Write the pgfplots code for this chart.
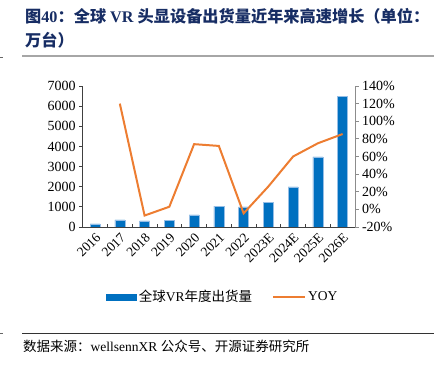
\documentclass[border=0pt]{standalone}
\usepackage{pgfplots}
\pgfplotsset{compat=1.18}
\usepackage{fontspec}
\setmainfont{Liberation Serif}
\newfontfamily\cjk{Noto Sans CJK SC}
\definecolor{barblue}{RGB}{0,112,192}
\definecolor{baredge}{RGB}{150,190,230}
\definecolor{lineor}{RGB}{237,125,49}
\definecolor{navy}{RGB}{23,45,100}
\begin{document}
\begin{tikzpicture}[x=1pt,y=1pt]
\useasboundingbox (0,0) rectangle (439,365);
% title
\node[anchor=base west, inner sep=0, text=navy, font=\fontsize{16.2}{20}\selectfont\bfseries] at (25,342)
 {{\cjk 图}40{\cjk ：全球} VR {\cjk 头显设备出货量近年来高速增长（单位：}};
\node[anchor=base west, inner sep=0, text=navy, font=\fontsize{16.2}{20}\selectfont\bfseries] at (25,318)
 {{\cjk 万台）}};
\draw[black!35, line width=2pt] (22,309) -- (434,309);
\draw[black!60, line width=0.8pt] (0,308) -- (3,308);
\draw[black!80, line width=0.8pt] (22,32) -- (434,32);
\draw[black!60, line width=0.8pt] (0,32) -- (3,32);
\node[anchor=base west, inner sep=0, font=\fontsize{13.5}{16}\selectfont] at (23,14)
 {{\cjk 数据来源：}wellsennXR {\cjk 公众号、开源证券研究所}};
% bars
\begin{axis}[
  at={(82.7pt,138pt)}, anchor=south west, scale only axis,
  width=272.3pt, height=141pt,
  xmin=-0.5, xmax=10.5, ymin=0, ymax=7000,
  axis y line*=left, axis x line*=bottom,
  axis line style={black!75, line width=0.8pt},
  xtick={0,...,10},
  xticklabels={2016,2017,2018,2019,2020,2021,2022,2023E,2024E,2025E,2026E},
  xtick style={draw=none},
  x tick label style={rotate=45, anchor=north east, font=\fontsize{13.5}{16}\selectfont, inner sep=1pt},
  ytick={0,1000,...,7000},
  y tick label style={font=\fontsize{14}{16}\selectfont},
  scaled y ticks=false,
  /pgf/number format/assume math mode=true,
  /pgf/number format/1000 sep={},
  tick align=outside, major tick length=3.5pt,
  ytick style={black!75, line width=0.8pt},
  clip=false,
]
\addplot[ybar, bar width=10pt, fill=barblue, draw=baredge, line width=0.5pt] coordinates {
 (0,150) (1,350) (2,310) (3,330) (4,600) (5,1040) (6,1000) (7,1240) (8,1990) (9,3480) (10,6500)};
\end{axis}
% line
\begin{axis}[
  at={(82.7pt,138pt)}, anchor=south west, scale only axis,
  width=272.3pt, height=141pt,
  xmin=-0.5, xmax=10.5, ymin=-20, ymax=140,
  axis y line*=right, axis x line*=bottom,
  axis line style={black!45, line width=0.8pt},
  x axis line style={black!75},
  xtick={0.5,1.5,...,9.5}, xticklabels={},
  xtick style={black!75, line width=0.8pt, yshift=3.5pt},
  ytick={-20,0,...,140},
  yticklabel={\pgfmathprintnumber{\tick}\%},
  y tick label style={font=\fontsize{14}{16}\selectfont},
  /pgf/number format/assume math mode=true,
  tick align=outside, major tick length=3.5pt,
  ytick style={black!45, line width=0.8pt},
  clip=false,
  legend columns=2,
  legend style={at={(0.515,-0.496)}, anchor=center, draw=none, fill=none,
    font=\fontsize{13.5}{16}\selectfont,
    /tikz/every even column/.append style={column sep=18pt}},
]
\addlegendimage{area legend, legend image code/.code={\fill[barblue] (0pt,-3pt) rectangle (30pt,3pt);}}
\addlegendentry{{\cjk 全球}VR{\cjk 年度出货量}}
\addlegendimage{legend image code/.code={\draw[lineor, line width=2pt] (0pt,0pt) -- (32pt,0pt);}}
\addlegendentry{YOY}
\addplot[lineor, line width=2pt, no markers, forget plot] coordinates {
 (1,120) (2,-7) (3,3) (4,74) (5,72) (6,-4.5) (7,26) (8,60) (9,75) (10,85.5)};
\end{axis}
\end{tikzpicture}
\end{document}
